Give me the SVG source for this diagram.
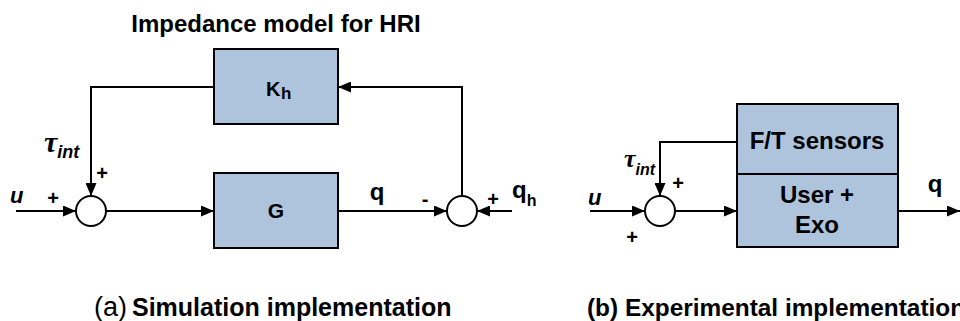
<svg xmlns="http://www.w3.org/2000/svg" width="960" height="321" viewBox="0 0 960 321">
<defs>
<marker id="ah" markerUnits="userSpaceOnUse" markerWidth="13" markerHeight="11" refX="13" refY="5.5" orient="auto">
<path d="M0,0 L13,5.5 L0,11 z" fill="#000"/>
</marker>
<style>
.blk{fill:#aec3dc;stroke:#000;stroke-width:2}
.sum{fill:#fff;stroke:#000;stroke-width:2}
.ln{fill:none;stroke:#000;stroke-width:2;marker-end:url(#ah)}
.t{font-family:"Liberation Sans",Arial,sans-serif;font-weight:bold;fill:#000}
.tau{font-family:"Liberation Serif","DejaVu Serif",serif;font-style:italic;font-weight:bold;fill:#000}
.it{font-family:"Liberation Sans",Arial,sans-serif;font-style:italic;font-weight:bold;fill:#000}
</style>
</defs>
<rect width="960" height="321" fill="#fff"/>

<text class="t" x="276" y="32" font-size="24" text-anchor="middle">Impedance model for HRI</text>

<g id="Kh">
<rect class="blk" x="214" y="49" width="124" height="75"/>
<text class="t" x="266" y="96" font-size="20">K<tspan x="281" y="99" font-size="17">h</tspan></text>
</g>
<g id="G">
<rect class="blk" x="214" y="173" width="124" height="75"/>
<text class="t" x="276" y="218" font-size="21" text-anchor="middle">G</text>
</g>
<g id="sum1">
<circle class="sum" cx="91" cy="211" r="15"/>
</g>
<g id="sum2">
<circle class="sum" cx="462" cy="211" r="15"/>
</g>

<g id="FTbox">
<rect class="blk" x="737" y="104" width="161" height="70"/>
<text class="t" x="817" y="149" font-size="24" text-anchor="middle">F/T sensors</text>
</g>
<g id="UserExo">
<rect class="blk" x="737" y="174" width="161" height="73"/>
<text class="t" x="817" y="203" font-size="24" text-anchor="middle">User +</text>
<text class="t" x="817" y="233" font-size="24" text-anchor="middle">Exo</text>
</g>
<g id="sum3">
<circle class="sum" cx="660" cy="211" r="15"/>
</g>

<g id="connectors">
<path class="ln" d="M16,211 H76"/>
<path class="ln" d="M214,87 H91 V196"/>
<path class="ln" d="M106,211 H214"/>
<path class="ln" d="M338,211 H447"/>
<path class="ln" d="M462,196 V87 H338"/>
<path class="ln" d="M512,211 H477"/>
<path class="ln" d="M590,211 H645"/>
<path class="ln" d="M737,142 H660 V196"/>
<path class="ln" d="M675,211 H737"/>
<path class="ln" d="M898,211 H960"/>
</g>

<g id="labels">
<text class="tau" x="44" y="152" font-size="30">τ<tspan class="it" font-size="18" y="158">int</tspan></text>
<text class="it" x="10" y="203" font-size="22">u</text>
<text class="t" x="53" y="205" font-size="20" text-anchor="middle">+</text>
<text class="t" x="102" y="180" font-size="20" text-anchor="middle">+</text>
<text class="t" x="377" y="200" font-size="24" text-anchor="middle">q</text>
<text class="t" x="425" y="206" font-size="20" text-anchor="middle">-</text>
<text class="t" x="493" y="206" font-size="20" text-anchor="middle">+</text>
<text class="t" x="512" y="198" font-size="24">q<tspan font-size="16" y="206">h</tspan></text>

<text class="tau" x="624" y="167" font-size="26">τ<tspan class="it" font-size="16" y="175">int</tspan></text>
<text class="it" x="588" y="205" font-size="22">u</text>
<text class="t" x="632" y="244" font-size="20" text-anchor="middle">+</text>
<text class="t" x="678" y="190" font-size="20" text-anchor="middle">+</text>
<text class="t" x="935" y="192" font-size="24" text-anchor="middle">q</text>

<text x="94" y="316" font-family="Liberation Sans,Arial,sans-serif" font-size="27">(a)<tspan class="t" font-size="25" dx="5">Simulation implementation</tspan></text>
<text class="t" x="587" y="316" font-size="24.4">(b) Experimental implementation</text>
</g>
</svg>
